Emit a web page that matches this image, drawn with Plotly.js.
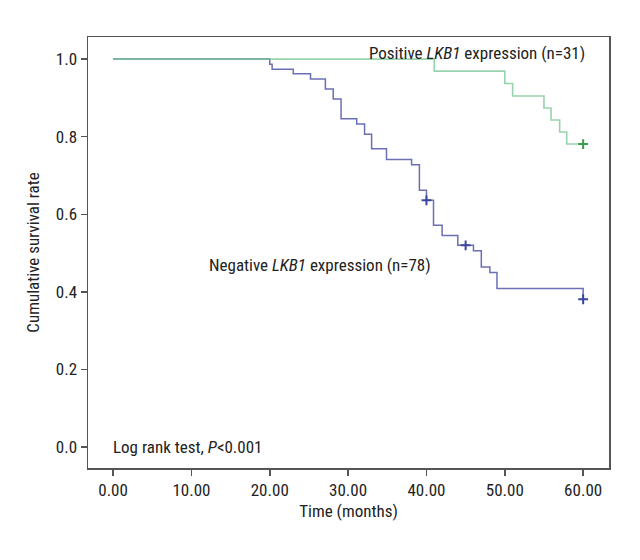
<!DOCTYPE html>
<html>
<head>
<meta charset="utf-8">
<script src="https://cdn.plot.ly/plotly-3.0.1.min.js"></script>
<style>
html,body{margin:0;padding:0;background:#fff;}
#chart{width:640px;height:560px;}
svg text{font-stretch:condensed !important;}
</style>
</head>
<body>
<div id="chart"></div>
<script>
// Negative LKB1 expression (n=78)
const negTime = [0, 20, 20.3, 23, 25.2, 27.1, 28.1, 29.1, 31.1, 32.1, 33, 34.9, 38.1, 39.1, 40, 40.9, 42, 44, 46, 47, 48.1, 49, 60];
const negSurv = [1, 0.987, 0.974, 0.962, 0.949, 0.923, 0.897, 0.846, 0.833, 0.806, 0.769, 0.741, 0.728, 0.662, 0.636, 0.572, 0.545, 0.520, 0.506, 0.464, 0.450, 0.409, 0.381];
const negCensTime = [40, 45, 60];
const negCensSurv = [0.636, 0.520, 0.381];

// Positive LKB1 expression (n=31)
const posTime = [0, 41, 50, 51, 55, 55.9, 57, 57.9, 60];
const posSurv = [1, 0.969, 0.937, 0.905, 0.874, 0.843, 0.812, 0.781, 0.781];
const posCensTime = [60];
const posCensSurv = [0.781];

const xTicks = [0, 10, 20, 30, 40, 50, 60];
const yTicks = [0, 0.2, 0.4, 0.6, 0.8, 1.0];

const FONT = 'Roboto, "DejaVu Sans Condensed", sans-serif';
const FS = 17;

const traces = [
  {x: negTime, y: negSurv, mode: 'lines', line: {shape: 'hv', color: '#6b70b4', width: 1.5}, hoverinfo: 'skip'},
  {x: negCensTime, y: negCensSurv, mode: 'markers', marker: {symbol: 'cross-thin-open', size: 7, color: '#3a45a0', line: {color: '#3a45a0', width: 2}}, hoverinfo: 'skip'},
  {x: posTime, y: posSurv, mode: 'lines', opacity: 0.75, line: {shape: 'hv', color: '#74c490', width: 1.6}, hoverinfo: 'skip'},
  {x: posCensTime, y: posCensSurv, mode: 'markers', marker: {symbol: 'cross-thin-open', size: 7, color: '#3a9a4e', line: {color: '#3a9a4e', width: 2}}, hoverinfo: 'skip'}
];

const layout = {
  width: 640, height: 560,
  margin: {l: 88, r: 31, t: 37, b: 92},
  paper_bgcolor: '#fff', plot_bgcolor: '#fff',
  showlegend: false,
  font: {family: FONT, size: FS, color: '#222'},
  xaxis: {
    range: [-3.2, 63.3], tickvals: xTicks, tickformat: '.2f',
    showgrid: false, zeroline: false,
    showline: true, linecolor: '#555', linewidth: 1.5, mirror: true,
    ticks: 'outside', ticklen: 6, tickwidth: 1.5, tickcolor: '#555',
    tickfont: {family: FONT, size: FS, color: '#222'},
    title: {text: 'Time (months)', font: {family: FONT, size: FS, color: '#222'}, standoff: 6},
    automargin: false
  },
  yaxis: {
    range: [-0.054, 1.057], tickvals: yTicks, tickformat: '.1f',
    showgrid: false, zeroline: false,
    showline: true, linecolor: '#555', linewidth: 1.5, mirror: true,
    ticks: 'outside', ticklen: 6, tickwidth: 1.5, tickcolor: '#555',
    tickfont: {family: FONT, size: FS, color: '#222'},
    title: {text: 'Cumulative survival rate', font: {family: FONT, size: FS, color: '#222'}, standoff: 12},
    automargin: false
  },
  annotations: [
    {xref: 'paper', yref: 'paper', x: 0.958, y: 0.963, xanchor: 'right', yanchor: 'middle', showarrow: false,
     text: 'Positive <i>LKB1</i> expression (n=31)', font: {family: FONT, size: FS, color: '#222'}},
    {xref: 'paper', yref: 'paper', x: 0.662, y: 0.471, xanchor: 'right', yanchor: 'middle', showarrow: false,
     text: 'Negative <i>LKB1</i> expression (n=78)', font: {family: FONT, size: FS, color: '#222'}},
    {xref: 'paper', yref: 'paper', x: 0.044, y: 0.049, xanchor: 'left', yanchor: 'middle', showarrow: false,
     text: 'Log rank test, <i>P</i>&lt;0.001', font: {family: FONT, size: FS, color: '#222'}}
  ]
};

Plotly.newPlot('chart', traces, layout, {displayModeBar: false, staticPlot: true});
</script>
</body>
</html>
